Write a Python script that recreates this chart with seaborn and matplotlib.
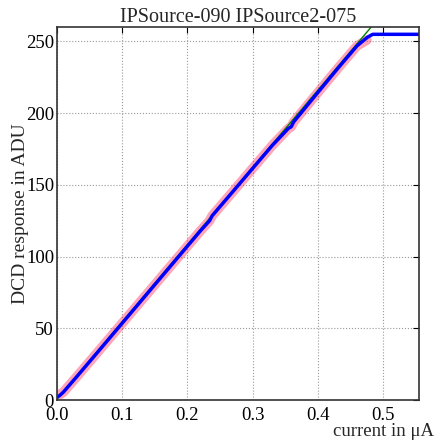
import numpy as np
import pandas as pd
import matplotlib
matplotlib.use("Agg")
import matplotlib.pyplot as plt
import seaborn as sns

# -----------------------
# Data
# -----------------------
# DCD response (blue), in ADU vs injected current in uA
current = [0.000, 0.004, 0.010, 0.030, 0.060, 0.100, 0.140, 0.180, 0.220,
           0.234, 0.238, 0.270, 0.300, 0.330, 0.355, 0.359, 0.363, 0.400,
           0.430, 0.460, 0.476, 0.484, 0.490, 0.555]
adu = [2.0, 3.0, 5.5, 16.0, 32.0, 53.5, 75.0, 96.5, 118.0,
       125.0, 128.5, 145.5, 161.5, 177.5, 189.5, 190.5, 194.0, 214.5,
       231.0, 247.0, 253.0, 255.0, 255.0, 255.0]

# raw scan points (pink band)
raw_current = [0.000, 0.004, 0.010, 0.030, 0.060, 0.100, 0.140, 0.180, 0.220,
               0.234, 0.238, 0.270, 0.300, 0.330, 0.355, 0.359, 0.363, 0.400,
               0.430, 0.460, 0.475]
raw_adu = [4.0, 3.5, 5.5, 16.0, 32.0, 53.5, 75.0, 96.5, 118.0,
           125.0, 128.5, 145.5, 161.5, 177.5, 189.5, 190.5, 194.0, 214.5,
           231.0, 247.0, 251.0]

# linear fit (green)
fit_slope = 539.0
fit_offset = 0.5
fit_range = [0.0, 0.50]

title = "IPSource-090 IPSource2-075"


def main():
    sns.set_theme(style="white")
    plt.rcParams["font.family"] = ["Liberation Serif", "DejaVu Serif"]
    plt.rcParams["mathtext.fontset"] = "dejavuserif"

    dcd = pd.DataFrame({"current": current, "adu": adu})
    raw = pd.DataFrame({"current": raw_current, "adu": raw_adu})
    fx = np.array(fit_range)
    fit = pd.DataFrame({"current": fx, "adu": fit_slope * fx + fit_offset})

    fig = plt.figure(figsize=(4.37, 4.45), dpi=100)
    ax = fig.add_axes([0.130, 0.101, 0.829, 0.838])

    sns.lineplot(data=raw, x="current", y="adu", color="#ff2050", alpha=0.4,
                 linewidth=7, estimator=None, sort=False, ax=ax)
    sns.lineplot(data=fit, x="current", y="adu", color="#008000",
                 linewidth=1.0, estimator=None, sort=False, ax=ax)
    sns.lineplot(data=dcd, x="current", y="adu", color="#0000ff",
                 linewidth=2.5, estimator=None, sort=False, ax=ax)

    ax.set_xlim(0, 0.555)
    ax.set_ylim(0, 260)
    ax.set_xticks([0.0, 0.1, 0.2, 0.3, 0.4, 0.5])
    ax.set_yticks([0, 50, 100, 150, 200, 250])
    ax.set_xticklabels(["0.0", "0.1", "0.2", "0.3", "0.4", "0.5"])

    ax.grid(True, color="0.6", linestyle=":", linewidth=0.8)
    for s in ax.spines.values():
        s.set_color("0.2")
        s.set_linewidth(1.2)
    ax.tick_params(direction="in", length=4, width=0.8, top=True, right=True,
                   labelsize=13.5, colors="black")
    ax.tick_params(axis="x", pad=5)
    ax.tick_params(axis="y", pad=2)

    ax.set_title(title, fontsize=14.5, pad=4)
    ax.set_ylabel("DCD response in ADU", fontsize=14, labelpad=-2)
    ax.set_xlabel("current in μA", fontsize=13.5, ha="right")
    ax.xaxis.set_label_coords(1.04, -0.062)

    fig.savefig("out.png", dpi=100)
    plt.close(fig)


if __name__ == "__main__":
    main()
